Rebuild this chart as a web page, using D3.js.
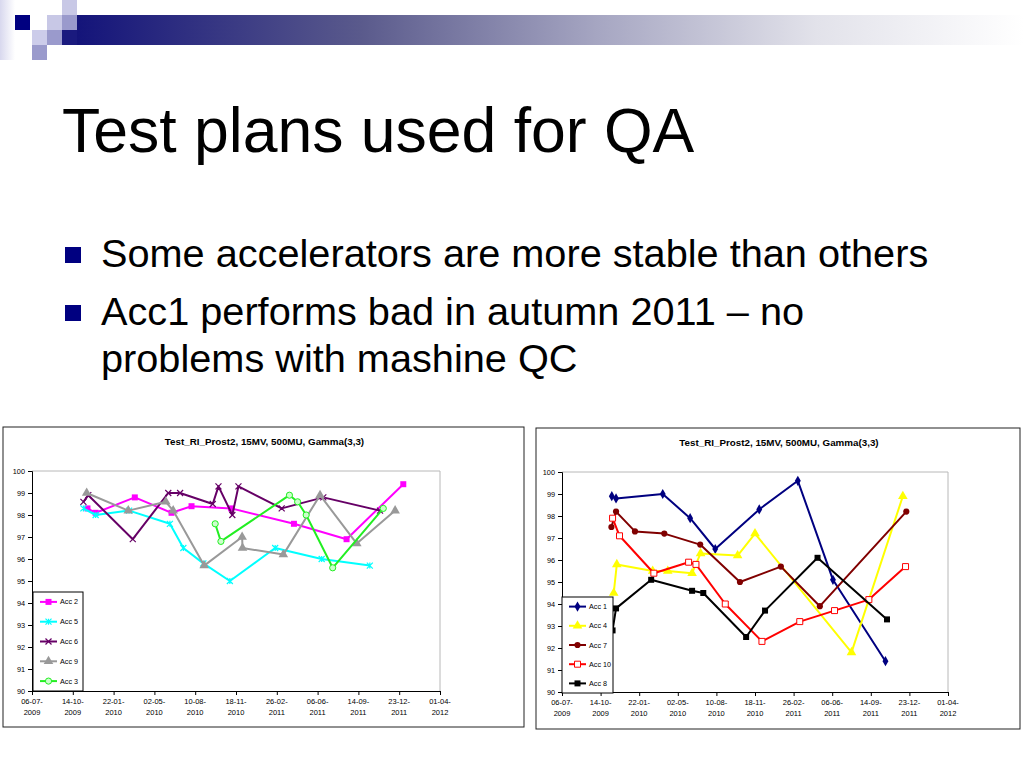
<!DOCTYPE html>
<html>
<head>
<meta charset="utf-8">
<script src="https://cdn.jsdelivr.net/npm/d3@7"></script>
<style>
  body { margin: 0; background: #fff; }
  svg { display: block; }
</style>
</head>
<body>
<svg id="slide" width="1024" height="768"></svg>
<script>
// ---- data ----
const tickDates = ["2009-07-06", "2009-10-14", "2010-01-22", "2010-05-02", "2010-08-10", "2010-11-18",
  "2011-02-26", "2011-06-06", "2011-09-14", "2011-12-23", "2012-04-01"]
const yTicks = [90, 91, 92, 93, 94, 95, 96, 97, 98, 99, 100]

// left chart
const acc2Dates = ["2009-11-19", "2009-12-09", "2010-03-15", "2010-06-13", "2010-08-01", "2010-11-06", "2011-04-09", "2011-08-16", "2012-01-02"]
const acc2Values = [98.3, 98.1, 98.8, 98.1, 98.4, 98.3, 97.6, 96.9, 99.4]
const acc5Dates = ["2009-11-09", "2009-12-09", "2010-03-01", "2010-06-09", "2010-07-12", "2010-08-30", "2010-11-03", "2011-02-22", "2011-06-16", "2011-10-12"]
const acc5Values = [98.3, 98.0, 98.2, 97.6, 96.5, 95.8, 95.0, 96.5, 96.0, 95.7]
const acc6Dates = ["2009-11-09", "2009-11-21", "2010-03-10", "2010-06-05", "2010-07-04", "2010-09-22", "2010-10-06", "2010-11-09", "2010-11-24", "2011-03-10", "2011-06-20", "2011-11-06"]
const acc6Values = [98.6, 98.9, 96.9, 99.0, 99.0, 98.5, 99.3, 98.0, 99.3, 98.3, 98.8, 98.2]
const acc9Dates = ["2009-11-17", "2010-02-27", "2010-05-30", "2010-06-17", "2010-09-01", "2010-12-03", "2010-12-04", "2011-03-14", "2011-06-12", "2011-09-10", "2011-12-13"]
const acc9Values = [99.0, 98.2, 98.6, 98.2, 95.7, 97.0, 96.5, 96.2, 98.9, 96.7, 98.2]
const acc3Dates = ["2010-09-28", "2010-10-12", "2011-03-29", "2011-04-18", "2011-05-09", "2011-07-13", "2011-11-14"]
const acc3Values = [97.6, 96.8, 98.9, 98.6, 98.0, 95.6, 98.3]

// right chart
const acc1Dates = ["2009-11-12", "2009-11-23", "2010-03-24", "2010-06-03", "2010-08-07", "2010-11-29", "2011-03-09", "2011-06-08", "2011-10-22"]
const acc1Values = [98.9, 98.8, 99.0, 97.9, 96.5, 98.3, 99.6, 95.1, 91.4]
const acc4Dates = ["2009-11-17", "2009-11-25", "2010-02-26", "2010-04-06", "2010-06-08", "2010-06-30", "2010-10-04", "2010-11-18", "2011-07-26", "2011-12-06"]
const acc4Values = [94.5, 95.8, 95.5, 95.5, 95.4, 96.3, 96.2, 97.2, 91.8, 98.9]
const acc7Dates = ["2009-11-11", "2009-11-23", "2010-01-11", "2010-03-28", "2010-06-29", "2010-10-10", "2011-01-24", "2011-05-05", "2011-12-15"]
const acc7Values = [97.5, 98.2, 97.3, 97.2, 96.7, 95.0, 95.7, 93.9, 98.2]
const acc10Dates = ["2009-11-14", "2009-12-02", "2010-03-01", "2010-05-30", "2010-06-18", "2010-09-02", "2010-12-06", "2011-03-14", "2011-06-12", "2011-09-09", "2011-12-13"]
const acc10Values = [97.9, 97.1, 95.4, 95.9, 95.8, 94.0, 92.3, 93.2, 93.7, 94.2, 95.7]
const acc8Dates = ["2009-11-14", "2009-11-23", "2010-02-22", "2010-06-08", "2010-07-07", "2010-10-26", "2010-12-14", "2011-04-29", "2011-10-26"]
const acc8Values = [92.8, 93.8, 95.1, 94.6, 94.5, 92.5, 93.7, 96.1, 93.3]

const chartTitle = "Test_RI_Prost2, 15MV, 500MU, Gamma(3,3)"
const slideTitle = "Test plans used for QA"
const bullets = [
  ["Some accelerators are more stable than others"],
  ["Acc1 performs bad in autumn 2011 \u2013 no", "problems with mashine QC"]
]

const parse = d3.utcParse("%Y-%m-%d")
const fmtTop = d3.utcFormat("%d-%m-")
const fmtBottom = d3.utcFormat("%Y")
const font = "'Liberation Sans', Arial, sans-serif"

const svg = d3.select('#slide')

// ---- slide decoration ----
const defs = svg.append('defs')
const barGrad = defs.append('linearGradient').attr('id', 'bar').attr('x1', 0).attr('x2', 1)
barGrad.append('stop').attr('offset', 0).attr('stop-color', '#14147a')
barGrad.append('stop').attr('offset', 0.3).attr('stop-color', '#5a5a8c')
barGrad.append('stop').attr('offset', 0.55).attr('stop-color', '#a6a6c2')
barGrad.append('stop').attr('offset', 0.78).attr('stop-color', '#e2e2ea')
barGrad.append('stop').attr('offset', 1).attr('stop-color', '#ffffff')
const edgeGrad = defs.append('linearGradient').attr('id', 'edge').attr('x1', 0).attr('x2', 1)
edgeGrad.append('stop').attr('offset', 0).attr('stop-color', '#d8d8ee')
edgeGrad.append('stop').attr('offset', 1).attr('stop-color', '#ffffff')

svg.append('rect').attr('x', 0).attr('y', 0).attr('width', 15).attr('height', 60).attr('fill', 'url(#edge)')
svg.append('rect').attr('x', 77).attr('y', 15).attr('width', 947).attr('height', 30).attr('fill', 'url(#bar)')
const squares = [
  [15, 15, '#000080'], [47, 15, '#c8c8e6'], [62, 0, '#c8c8e6'], [62, 15, '#9a9acc'],
  [32, 30, '#ccccea'], [47, 30, '#9a9acc'], [62, 30, '#1a1a7e'], [32, 45, '#9a9acc']
]
svg.selectAll('.sq').data(squares).join('rect')
  .attr('class', 'sq')
  .attr('x', d => d[0]).attr('y', d => d[1])
  .attr('width', 15).attr('height', 15)
  .attr('fill', d => d[2])

// ---- slide text ----
svg.append('text')
  .attr('x', 62).attr('y', 152)
  .attr('font-family', font).attr('font-size', 62.5)
  .text(slideTitle)

let lineY = 267
bullets.forEach(b => {
  svg.append('rect').attr('x', 65).attr('y', lineY - 20).attr('width', 16).attr('height', 16).attr('fill', '#000080')
  b.forEach(line => {
    svg.append('text')
      .attr('x', 101).attr('y', lineY)
      .attr('font-family', font).attr('font-size', 39.7)
      .text(line)
    lineY += 47
  })
  lineY += 11
})

// ---- markers ----
function markerPath(type, s) {
  if (type === 'x') return `M${-s},${-s}L${s},${s}M${-s},${s}L${s},${-s}`
  if (type === 'star') return `M${-s},${-s}L${s},${s}M${-s},${s}L${s},${-s}M0,${-s}L0,${s}`
  const sym = { square: d3.symbolSquare, diamond: d3.symbolDiamond, triangle: d3.symbolTriangle, circle: d3.symbolCircle }[type]
  const size = { square: 36, diamond: 30, triangle: 40, circle: 30 }[type]
  return d3.symbol(sym, size)()
}

function drawMarker(g, s, x, y) {
  const p = g.append('path')
    .attr('d', markerPath(s.marker, 3))
    .attr('transform', `translate(${x},${y})`)
  if (s.marker === 'x' || s.marker === 'star') {
    p.attr('fill', 'none').attr('stroke', s.color).attr('stroke-width', 1.2)
  } else if (s.open) {
    p.attr('fill', s.open).attr('stroke', s.color).attr('stroke-width', 1)
  } else {
    p.attr('fill', s.color)
  }
}

// ---- chart ----
function drawChart(cfg) {
  const g = svg.append('g')
  g.append('rect')
    .attr('x', cfg.box[0]).attr('y', cfg.box[1])
    .attr('width', cfg.box[2] - cfg.box[0]).attr('height', cfg.box[3] - cfg.box[1])
    .attr('fill', '#fff').attr('stroke', '#222').attr('stroke-width', 1)

  g.append('text')
    .attr('x', (cfg.box[0] + cfg.box[2]) / 2 + 1).attr('y', cfg.box[1] + 18)
    .attr('text-anchor', 'middle')
    .attr('font-family', font).attr('font-size', 9.8).attr('font-weight', 'bold')
    .text(chartTitle)

  const x = d3.scaleUtc()
    .domain([parse(tickDates[0]), parse(tickDates[tickDates.length - 1])])
    .range([cfg.plot[0], cfg.plot[2]])
  const y = d3.scaleLinear().domain([90, 100]).range([cfg.plot[3], cfg.plot[1]])

  // plot area frame (top / right in grey)
  g.append('path')
    .attr('d', `M${cfg.plot[0]},${cfg.plot[1]}H${cfg.plot[2]}V${cfg.plot[3]}`)
    .attr('fill', 'none').attr('stroke', '#b8b8b8').attr('stroke-width', 1)

  const yAxis = g.append('g')
    .attr('transform', `translate(${cfg.plot[0]},0)`)
    .call(d3.axisLeft(y).tickValues(yTicks).tickSize(4).tickPadding(3).tickFormat(d3.format('d')))
  const xAxis = g.append('g')
    .attr('transform', `translate(0,${cfg.plot[3]})`)
    .call(d3.axisBottom(x).tickValues(tickDates.map(parse)).tickSize(4).tickFormat(''))
  ;[xAxis, yAxis].forEach(a => {
    a.select('.domain').attr('stroke', '#000')
    a.selectAll('.tick line').attr('stroke', '#000')
    a.selectAll('text').attr('font-family', font).attr('font-size', 7.3).attr('fill', '#000')
  })

  const xl = g.append('g')
  tickDates.map(parse).forEach(d => {
    const t = xl.append('text')
      .attr('x', x(d)).attr('y', cfg.plot[3] + 13)
      .attr('text-anchor', 'middle')
      .attr('font-family', font).attr('font-size', 7.5)
    t.append('tspan').attr('x', x(d)).text(fmtTop(d))
    t.append('tspan').attr('x', x(d)).attr('dy', 10.5).text(fmtBottom(d))
  })

  const line = d3.line().x(p => x(p[0])).y(p => y(p[1]))
  cfg.series.forEach(s => {
    const pts = s.dates.map((d, i) => [parse(d), s.values[i]])
    g.append('path')
      .attr('d', line(pts))
      .attr('fill', 'none').attr('stroke', s.color).attr('stroke-width', 2)
      .attr('stroke-linejoin', 'round')
    const mg = g.append('g')
    pts.forEach(p => drawMarker(mg, s, x(p[0]), y(p[1])))
  })

  // legend
  const L = cfg.legend
  const lg = g.append('g')
  lg.append('rect')
    .attr('x', L[0]).attr('y', L[1]).attr('width', L[2] - L[0]).attr('height', L[3] - L[1])
    .attr('fill', '#fff').attr('stroke', '#000').attr('stroke-width', 1)
  const step = (L[3] - L[1]) / cfg.series.length
  cfg.series.forEach((s, i) => {
    const cy = L[1] + step * (i + 0.5)
    lg.append('line')
      .attr('x1', L[0] + 7).attr('x2', L[0] + 24).attr('y1', cy).attr('y2', cy)
      .attr('stroke', s.color).attr('stroke-width', 2)
    drawMarker(lg, s, L[0] + 15.5, cy)
    lg.append('text')
      .attr('x', L[0] + 27).attr('y', cy + 2.5)
      .attr('font-family', font).attr('font-size', 7.2)
      .text(s.name)
  })
}

drawChart({
  box: [3, 427, 524, 727],
  plot: [32, 471, 440, 691],
  legend: [33, 592, 83, 691],
  series: [
    { name: 'Acc 2', dates: acc2Dates, values: acc2Values, color: '#ff00ff', marker: 'square' },
    { name: 'Acc 5', dates: acc5Dates, values: acc5Values, color: '#00ffff', marker: 'star' },
    { name: 'Acc 6', dates: acc6Dates, values: acc6Values, color: '#660066', marker: 'x' },
    { name: 'Acc 9', dates: acc9Dates, values: acc9Values, color: '#999999', marker: 'triangle' },
    { name: 'Acc 3', dates: acc3Dates, values: acc3Values, color: '#22ee22', marker: 'circle', open: '#ccffcc' }
  ]
})

drawChart({
  box: [536, 428, 1020, 729],
  plot: [562, 472, 948, 692],
  legend: [562, 597, 613, 693],
  series: [
    { name: 'Acc 1', dates: acc1Dates, values: acc1Values, color: '#000080', marker: 'diamond' },
    { name: 'Acc 4', dates: acc4Dates, values: acc4Values, color: '#ffff00', marker: 'triangle' },
    { name: 'Acc 7', dates: acc7Dates, values: acc7Values, color: '#800000', marker: 'circle' },
    { name: 'Acc 10', dates: acc10Dates, values: acc10Values, color: '#ff0000', marker: 'square', open: '#ffffff' },
    { name: 'Acc 8', dates: acc8Dates, values: acc8Values, color: '#000000', marker: 'square' }
  ]
})
</script>
</body>
</html>
